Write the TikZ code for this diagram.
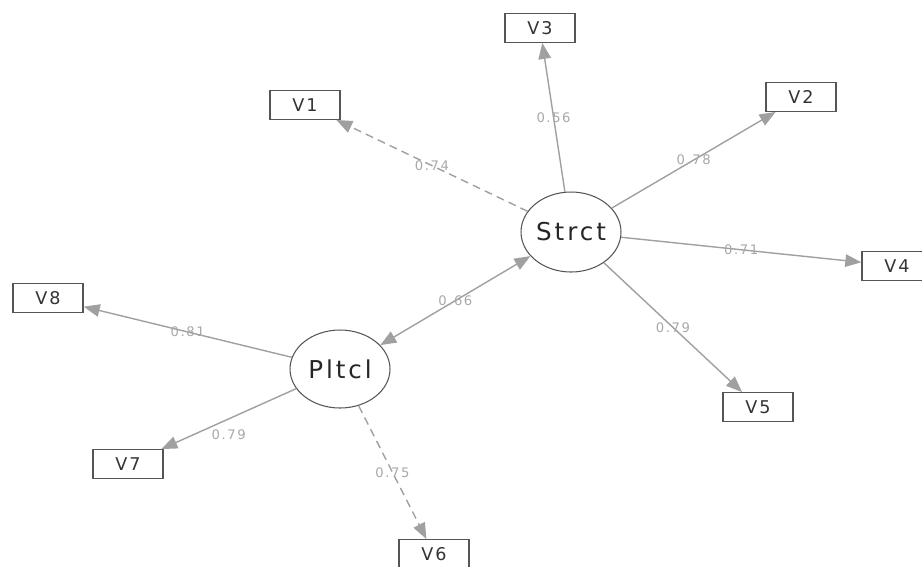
\documentclass[tikz,border=0pt]{standalone}
\usepackage{fontspec}
\setmainfont{DejaVu Sans}
\newfontfamily\semfont[LetterSpace=12]{DejaVu Sans}
\usetikzlibrary{shapes.geometric,arrows.meta}
\definecolor{edgegray}{HTML}{A0A0A0}
\definecolor{wtgray}{HTML}{A8A8A8}
\definecolor{boxgray}{HTML}{555555}
\begin{document}
\begin{tikzpicture}[x=0.02cm,y=-0.02cm,
  lat/.style={ellipse,draw=boxgray,line width=0.6pt,minimum width=2cm,
    minimum height=1.6cm,inner sep=0pt,text=black!85,font=\semfont\fontsize{14}{16}\selectfont},
  obs/.style={rectangle,draw=boxgray,line width=0.8pt,minimum width=1.4cm,
    minimum height=0.57cm,inner sep=0pt,text=black!80,font=\semfont\fontsize{10}{12}\selectfont},
  load/.style={draw=edgegray,line width=0.8pt,-{Triangle[length=0.32cm,width=0.25cm]}},
  free/.style={},
  fixed/.style={dash pattern=on 4.5pt off 3pt},
  wt/.style={font=\semfont\fontsize{7.5}{9}\selectfont,text=wtgray,inner sep=0pt}]
  \useasboundingbox (0,0) rectangle (922,566);
  \clip (0,0) rectangle (922,566);
  % latent variables
  \node[lat] (Strct) at (571,232) {Strct};
  \node[lat,minimum height=1.56cm] (Pltcl) at (340,369) {Pltcl};
  % indicators
  \foreach \v/\x/\y in {V1/305/105, V2/801/97, V3/540/28, V4/897/266,
      V5/758/407, V6/434/554, V7/128/464, V8/48/298}
    \node[obs] (\v) at (\x,\y) {\v};
  % loadings
  \foreach \a/\b/\w/\s/\o in {Strct/V1/0.74/fixed/0, Strct/V3/0.56/free/0,
      Strct/V2/0.78/free/0, Strct/V4/0.71/free/0, Strct/V5/0.79/free/0,
      Pltcl/V8/0.81/free/0, Pltcl/V7/0.79/free/-9pt, Pltcl/V6/0.75/fixed/0}
    \draw[load,\s] (\a) -- node[wt,yshift=\o] {\w} (\b);
  % covariance
  \draw[load,{Triangle[length=0.32cm,width=0.25cm]}-{Triangle[length=0.32cm,width=0.25cm]}]
    (Pltcl) -- node[wt] {0.66} (Strct);
\end{tikzpicture}
\end{document}
